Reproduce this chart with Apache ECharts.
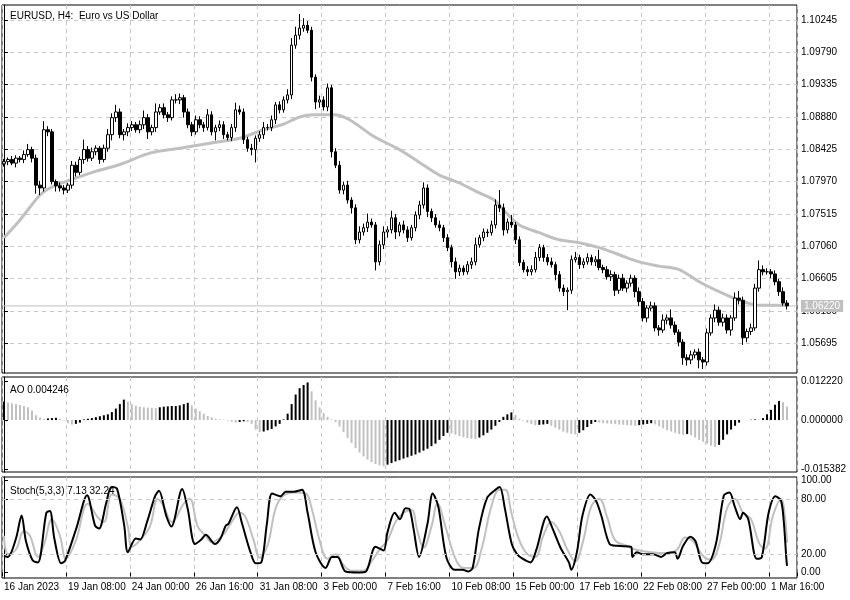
<!DOCTYPE html>
<html><head><meta charset="utf-8">
<script src="https://cdn.jsdelivr.net/npm/echarts@6/dist/echarts.min.js"></script>
<style>html,body{margin:0;padding:0;background:#fff}#c{width:850px;height:600px}</style>
</head><body><div id="c"></div>
<script>
const closes=[1.0825,1.0828,1.0823,1.0830,1.0828,1.0835,1.0842,1.0830,1.0792,1.0788,
1.0870,1.0867,1.0797,1.0791,1.0788,1.0785,1.0792,1.0820,1.0810,1.0828,
1.0842,1.0830,1.0839,1.0844,1.0828,1.0844,1.0863,1.0887,1.0895,1.0863,
1.0867,1.0873,1.0877,1.0870,1.0877,1.0887,1.0867,1.0873,1.0895,1.0901,
1.0891,1.0887,1.0912,1.0912,1.0915,1.0895,1.0877,1.0867,1.0884,1.0877,
1.0873,1.0891,1.0867,1.0873,1.0877,1.0863,1.0859,1.0873,1.0898,1.0895,
1.0856,1.0844,1.0842,1.0858,1.0863,1.0873,1.0873,1.0884,1.0905,1.0898,
1.0912,1.0919,1.0989,1.1003,1.1013,1.1017,1.1010,1.0944,1.0909,1.0912,
1.0902,1.0929,1.0839,1.0820,1.0785,1.0792,1.0771,1.0760,1.0715,1.0726,
1.0732,1.0740,1.0736,1.0684,1.0708,1.0726,1.0729,1.0746,1.0726,1.0736,
1.0729,1.0718,1.0732,1.0750,1.0764,1.0788,1.0755,1.0746,1.0736,1.0732,
1.0718,1.0704,1.0684,1.0670,1.0675,1.0670,1.0680,1.0684,1.0708,1.0718,
1.0726,1.0725,1.0736,1.0764,1.0760,1.0729,1.0740,1.0736,1.0715,1.0683,
1.0673,1.0670,1.0673,1.0690,1.0704,1.0690,1.0684,1.0680,1.0666,1.0647,
1.0642,1.0644,1.0687,1.0690,1.0680,1.0684,1.0690,1.0684,1.0687,1.0676,
1.0673,1.0663,1.0666,1.0644,1.0661,1.0647,1.0654,1.0661,1.0642,1.0628,
1.0605,1.0619,1.0622,1.0591,1.0588,1.0602,1.0605,1.0595,1.0585,1.0571,
1.0549,1.0546,1.0553,1.0557,1.0546,1.0543,1.0584,1.0605,1.0616,1.0599,
1.0605,1.0588,1.0605,1.0633,1.0630,1.0577,1.0586,1.0591,1.0647,1.0673,
1.0670,1.0670,1.0667,1.0656,1.0642,1.0626,1.0622];
const firstOpen=1.0822;
const upperWickPips=[4,3,5,4,3,6,8,4,5,6,12,5,4,3,5,4,3,6,5,4,14,5,6,4,3,5,8,6,10,5,4,6,5,4,6,10,5,4,12,5,6,4,5,8,6,4,5,4,6,5,4,8,5,4,6,5,4,5,10,6,5,4,6,4,5,8,5,6,4,5,5,8,10,12,20,10,6,5,4,6,5,6,4,5,6,5,6,4,5,8,6,12,5,4,6,8,5,10,5,4,6,5,4,5,6,8,5,4,5,6,4,5,4,6,5,4,5,6,10,4,5,4,6,8,21,6,5,10,4,5,4,5,6,8,5,4,5,6,4,5,5,4,6,8,4,5,6,4,5,14,4,5,6,4,5,6,4,5,4,6,5,4,6,5,4,8,5,12,5,4,4,5,6,4,5,4,6,5,8,5,6,5,4,8,10,5,4,6,6,13,6,5,4,5,4,6,4];
const lowerWickPips=[4,5,3,6,4,5,3,6,12,10,5,6,4,8,5,6,4,5,6,4,6,5,4,5,6,4,5,8,6,5,8,6,5,4,5,6,10,5,6,4,5,6,4,5,6,8,5,6,4,5,6,4,5,12,5,6,4,5,6,4,6,5,8,18,5,6,4,5,6,5,4,5,6,5,6,5,4,6,10,8,5,6,8,4,5,6,5,8,6,5,5,6,4,12,5,6,8,5,10,6,5,6,4,5,6,5,8,6,4,5,6,5,8,10,6,5,4,6,5,4,5,6,4,5,6,8,5,4,6,5,4,6,5,4,5,6,5,4,8,5,6,26,5,4,6,5,4,5,6,4,5,4,6,8,5,4,6,5,8,6,5,6,4,5,8,4,6,5,4,6,10,8,6,5,12,10,5,4,6,5,6,5,8,4,6,10,6,5,4,5,5,4,6,5,6,4,5];
const maPoints=[[0,1.0718],[4,1.0743],[9,1.0778],[11.5,1.0788],[16.5,1.0799],[22.7,1.0811],[29,1.0821],[36.5,1.0837],[44,1.0844],[51.5,1.0851],[59,1.0858],[65,1.0870],[70,1.0878],[74,1.0888],[77.7,1.0891],[82.7,1.0891],[86.5,1.0884],[92.7,1.0860],[99,1.0842],[104,1.0824],[109,1.0806],[114,1.0795],[119,1.0781],[122.7,1.0771],[125,1.0757],[129,1.0736],[134,1.0725],[139,1.0715],[144,1.0711],[149,1.0704],[154,1.0694],[159,1.0684],[164,1.0678],[169,1.0673],[174,1.0656],[179,1.0642],[184,1.0630],[189,1.0623],[196,1.0623]];
const aoValues=[.0058,.0055,.0052,.0050,.0047,.0044,.0040,.0030,.0015,.0008,.0003,.0005,.0006,.0007,.0004,
-.0002,-.0010,-.0014,-.0012,-.0008,.0002,.0004,.0006,.0009,.0012,.0015,.0018,.0025,.0036,.0050,.0064,
.0058,.0050,.0045,.0042,.0040,.0039,.0038,.0037,.0040,.0042,.0043,.0044,.0044,.0046,.0050,.0054,
.0046,.0036,.0028,.0020,.0013,.0008,.0004,.0002,.0001,-.0002,-.0005,-.0008,-.0006,-.0004,-.0006,-.0012,
-.0030,-.0038,-.0036,-.0032,-.0028,-.0020,-.0012,.0002,.0020,.0050,.0080,.0100,.0110,.0118,
.0090,.0062,.0040,.0022,.0010,.0002,-.0006,-.0020,-.0038,-.0056,-.0072,-.0088,-.0102,-.0114,-.0124,-.0132,-.0138,-.0142,-.0145,
-.0140,-.0135,-.0130,-.0126,-.0121,-.0117,-.0112,-.0108,-.0102,-.0096,-.0090,-.0082,-.0074,-.0062,-.0050,-.0040,
-.0042,-.0046,-.0050,-.0054,-.0057,-.0059,-.0060,-.0055,-.0048,-.0040,-.0030,-.0018,-.0006,.0010,.0018,.0024,
.0016,.0004,-.0002,-.0008,-.0012,-.0016,-.0015,-.0014,-.0012,-.0018,-.0024,-.0030,-.0036,-.0040,-.0043,-.0045,
-.0040,-.0032,-.0022,-.0012,-.0006,-.0008,-.0010,-.0011,-.0012,-.0013,-.0014,-.0015,-.0016,-.0017,-.0018,
-.0016,-.0014,-.0012,-.0010,-.0014,-.0020,-.0026,-.0032,-.0036,-.0040,-.0044,-.0046,-.0044,-.0048,
-.0055,-.0062,-.0068,-.0074,-.0080,-.0084,-.0078,-.0062,-.0045,-.0030,-.0018,-.0008,
.0000,-.0001,.0001,.0002,.0001,.0006,.0018,.0032,.0048,.0060,.0056,.0042];
const stochMain=[[0,18],[1,17],[3,37],[4.4,62],[5.5,34],[7.2,13],[8.5,11],[10.6,65],[11.5,67],[12.6,37],[14.3,10],[15.3,13],[18.1,48],[20.8,84],[22.8,51],[23.8,48],[25.6,76],[26.9,93],[28.3,91],[30.1,51],[31,22],[33,37],[34.1,36],[35.8,55],[37.8,83],[38.8,89],[40.6,62],[41.9,50],[44.6,91],[46,69],[47.8,31],[49.4,36],[50.5,41],[52.8,31],[54.2,37],[55.5,51],[56.2,53],[58.3,71],[59.6,53],[61.7,22],[63,10],[64.4,11],[65.8,53],[67.1,86],[69.2,83],[70.5,88],[72.6,88],[74.6,90],[76,65],[78,22],[80.5,5],[82.1,17],[83.5,17],[85.5,1],[88.9,0],[90.6,1],[93,28],[95,24],[96,44],[97.8,65],[99.1,58],[100.5,70],[101.5,69],[102.5,48],[103.9,17],[106,53],[107.3,86],[108.7,72],[110.7,17],[112.8,3],[114.8,3],[116.2,1],[117.3,5],[118.9,48],[120.9,81],[123,90],[124.1,93],[125.4,69],[127.1,31],[128.4,20],[129.8,15],[131.8,11],[133.2,24],[135.9,61],[137.3,48],[139.3,27],[141.4,11],[142,3],[143.4,22],[144.8,62],[146.8,85],[148.2,78],[149.5,62],[151.6,31],[153.6,29],[157,28],[157.3,17],[158.4,22],[159.8,20],[162.5,20],[164.5,17],[165.9,21],[167.9,22],[168.6,15],[170,29],[171.8,39],[173.1,34],[174.7,11],[176.1,10],[178.2,31],[180.2,84],[181.6,87],[182.9,72],[184.3,58],[185,65],[186.3,58],[188.4,15],[189.7,17],[191.4,65],[193.1,83],[194.5,78],[195.2,55],[195.8,17],[196,7.13]];
const stochSignal=[[0,40],[1,20],[3,25],[5,45],[6.5,40],[8.5,17],[10,30],[12,58],[14,40],[15.5,15],[18,35],[21,75],[23.5,60],[25,55],[27,85],[29,80],[31,50],[32,28],[34,35],[36.5,50],[38.5,80],[40,72],[42,55],[45,75],[46.5,80],[48.5,50],[50.5,40],[52,33],[55,42],[57,55],[59,65],[60.5,60],[62.5,35],[64,16],[66,30],[68,70],[70,84],[73,87],[75.5,86],[77,70],[79,35],[81,15],[83,20],[85,8],[87,2],[90,2],[92,12],[94,25],[96,35],[98,55],[100,65],[102,68],[103.5,45],[105,27],[107,50],[108.5,75],[110.5,50],[113,15],[115,5],[117.5,5],[119.5,25],[122,72],[124,90],[125.5,90],[127,65],[129,35],[131,20],[133,17],[135,40],[137,55],[139,45],[141,25],[143,12],[145,35],[147,72],[149,80],[151,60],[153,35],[156,29],[158,25],[162,22],[166,21],[168.5,25],[170.5,38],[172.5,34],[175,18],[177,14],[179,30],[181,70],[183,80],[185,65],[187,58],[189,32],[190.5,26],[192.5,62],[194.5,80],[195.5,60],[196,32.24]];
const tickIndex=[0,16,32,48,64,80,96,112,128,144,160,176,192];
const tickLabels=['16 Jan 2023','19 Jan 08:00','24 Jan 00:00','26 Jan 16:00','31 Jan 08:00','3 Feb 00:00','7 Feb 16:00','10 Feb 08:00','15 Feb 00:00','17 Feb 16:00','22 Feb 08:00','27 Feb 00:00','1 Mar 16:00'];
const priceTicks=[1.05695,1.06150,1.06605,1.07060,1.07515,1.07970,1.08425,1.08880,1.09335,1.09790,1.10245];
const aoTicks=[-0.015382,0,0.012220];
const stochTicks=[0,20,80,100];
const lastPrice=1.06220;

const NB=199;
const cats=[];for(let i=0;i<NB;i++)cats.push(String(i));
const candles=closes.map((c,i)=>{const o=i?closes[i-1]:firstOpen;
 return [o,c,Math.min(o,c)-lowerWickPips[i]*1e-4,Math.max(o,c)+upperWickPips[i]*1e-4];});
const aoData=aoValues.map((v,i)=>({value:v,itemStyle:{color:(i>0&&v<aoValues[i-1])?'#c0c0c0':'#000'}}));
const isTick=i=>tickIndex.includes(i);
const font='"Liberation Sans", Arial, sans-serif';
const grids=[{left:2,right:53,top:5,height:368},{left:2,right:53,top:377,height:95},{left:2,right:53,top:477,height:101}];
const xCat=g=>({type:'category',gridIndex:g,data:cats,boundaryGap:true,
 axisLine:{show:false},axisTick:{show:g===2,interval:(i)=>isTick(i),length:4,inside:false,lineStyle:{color:'#000'}},
 axisLabel:{show:g===2,interval:(i)=>isTick(i),align:'left',margin:4,fontSize:10,color:'#000',fontFamily:font,
  formatter:(v,i)=>{const k=tickIndex.indexOf(+v);return k>=0?tickLabels[k]:'';}},
 splitLine:{show:true,interval:(i)=>isTick(i),lineStyle:{color:'#c8c8c8',type:[4,4]}}});
const xVal=g=>({type:'value',gridIndex:g,min:-0.5,max:NB-0.5,show:false,splitLine:{show:false}});
const yAx=(g,min,max,ticks,fmt,split)=>({type:'value',gridIndex:g,position:'right',min,max,scale:true,
 axisLine:{show:true,lineStyle:{color:'#000'}},
 axisTick:{show:true,length:4,customValues:ticks,lineStyle:{color:'#000'}},
 axisLabel:{customValues:ticks,formatter:fmt,fontSize:10,color:'#000',fontFamily:font,margin:4},
 splitLine:split});
const option={animation:false,backgroundColor:'#fff',
 title:[{text:'EURUSD, H4:  Euro vs US Dollar',left:5,top:6},{text:'AO 0.004246',left:5,top:380},{text:'Stoch(5,3,3) 7.13 32.24',left:5,top:481}].map(t=>Object.assign(t,{textStyle:{fontSize:10,fontWeight:'normal',color:'#000',fontFamily:font}})),
 grid:grids.map(g=>Object.assign({show:true,borderColor:'#000',borderWidth:1,backgroundColor:'transparent'},g)),
 xAxis:[xCat(0),xCat(1),xCat(2),xVal(0),xVal(1),xVal(2)],
 yAxis:[yAx(0,1.05275,1.10456,priceTicks,v=>v.toFixed(5),{show:true,lineStyle:{color:'#c8c8c8',type:[4,4]}}),
  yAx(1,-0.0163,0.0135,aoTicks,v=>v.toFixed(6),{show:false}),
  yAx(2,-6,104,stochTicks,v=>v.toFixed(2),{show:false})],
 series:[
  {type:'line',xAxisIndex:3,yAxisIndex:0,data:[[-0.5,lastPrice],[NB-0.5,lastPrice]],showSymbol:false,silent:true,
   lineStyle:{color:'#c0c0c0',width:1},z:1,
   endLabel:{show:true,formatter:()=>lastPrice.toFixed(5),backgroundColor:'#c0c0c0',color:'#fff',fontSize:10,fontFamily:font,padding:[1,3],distance:4}},
  {type:'line',xAxisIndex:3,yAxisIndex:0,data:maPoints,showSymbol:false,smooth:0.3,lineStyle:{color:'#c0c0c0',width:3},z:1},
  {type:'candlestick',xAxisIndex:0,yAxisIndex:0,data:candles,barWidth:3,
   itemStyle:{color:'#fff',color0:'#000',borderColor:'#000',borderColor0:'#000',borderWidth:1},z:3},
  {type:'bar',xAxisIndex:1,yAxisIndex:1,data:aoData,barWidth:2},
  {type:'line',xAxisIndex:5,yAxisIndex:2,data:stochSignal,showSymbol:false,smooth:0.4,lineStyle:{color:'#c0c0c0',width:2}},
  {type:'line',xAxisIndex:5,yAxisIndex:2,data:stochMain,showSymbol:false,smooth:0.3,lineStyle:{color:'#000',width:2},
   markLine:{symbol:'none',silent:true,label:{show:false},lineStyle:{color:'#c8c8c8',type:[4,4],width:1},data:[{yAxis:20},{yAxis:80}]}}
 ]};
const ch=echarts.init(document.getElementById('c'),null,{renderer:'canvas'});
ch.setOption(option);
</script></body></html>
